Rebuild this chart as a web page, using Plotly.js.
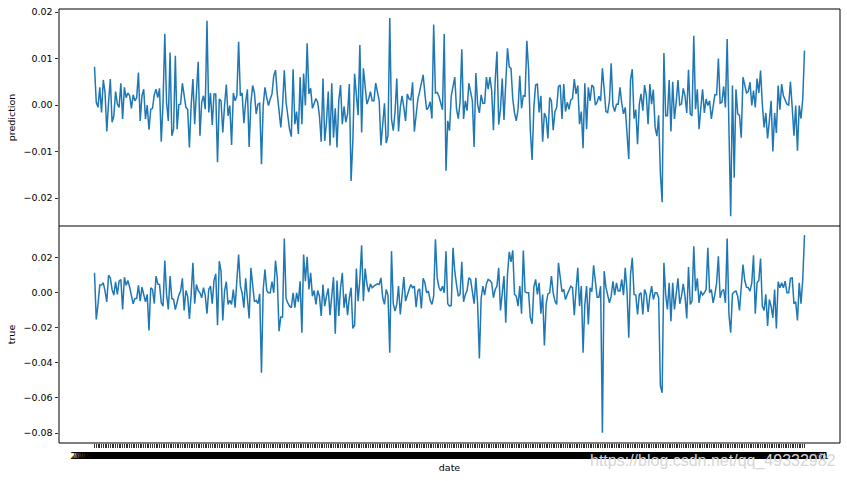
<!DOCTYPE html>
<html><head><meta charset="utf-8">
<script src="https://cdn.plot.ly/plotly-3.0.1.min.js"></script>
<style>html,body{margin:0;padding:0;background:#fff}#chart{width:847px;height:481px}</style>
</head><body><div id="chart"></div>
<script>
// predicted return per trading day
const prediction = [
0.0082,0.0006,-0.0005,0.0038,-0.0016,0.0054,0.0027,-0.0057,0.0006,0.0056,
-0.0037,-0.0023,0.0029,0.0002,-0.0005,0.0047,-0.0030,0.0038,0.0016,0.0026,
0.0020,-0.0007,0.0022,0.0009,0.0016,0.0070,-0.0034,0.0020,0.0034,-0.0030,
0.0000,-0.0053,-0.0009,-0.0007,0.0022,0.0034,0.0016,0.0036,-0.0079,0.0006,
0.0153,0.0006,-0.0034,0.0113,-0.0066,-0.0052,0.0106,-0.0052,0.0001,0.0002,
0.0047,0.0020,-0.0005,-0.0009,-0.0091,-0.0001,0.0056,-0.0041,0.0026,0.0093,
-0.0066,0.0006,0.0020,-0.0009,0.0181,-0.0016,0.0026,-0.0043,0.0024,0.0024,
-0.0123,0.0013,0.0009,-0.0059,-0.0001,0.0044,-0.0023,-0.0001,-0.0086,0.0026,
0.0009,0.0020,0.0136,0.0020,0.0026,-0.0039,0.0006,0.0034,-0.0090,0.0006,
0.0042,0.0026,-0.0019,0.0002,0.0004,-0.0127,-0.0001,0.0038,0.0016,-0.0001,
0.0013,0.0024,0.0063,0.0075,0.0024,-0.0009,-0.0048,-0.0001,0.0075,0.0006,
-0.0030,-0.0052,-0.0068,0.0077,-0.0041,-0.0014,-0.0062,0.0060,-0.0041,0.0068,
-0.0001,0.0133,0.0024,0.0036,-0.0007,0.0006,0.0014,0.0006,-0.0023,-0.0079,
0.0057,-0.0077,-0.0037,0.0029,-0.0087,0.0047,-0.0070,-0.0007,-0.0091,0.0009,
0.0043,-0.0041,-0.0003,-0.0037,-0.0019,0.0045,-0.0163,-0.0077,0.0067,0.0022,
-0.0022,0.0129,-0.0059,0.0079,0.0042,0.0002,0.0013,0.0029,0.0009,0.0009,
0.0047,0.0029,0.0009,-0.0087,-0.0044,0.0004,-0.0082,-0.0066,0.0187,-0.0030,
-0.0055,-0.0016,0.0057,-0.0057,-0.0005,0.0020,-0.0005,-0.0034,0.0024,0.0013,
0.0011,0.0049,-0.0057,-0.0023,0.0013,0.0029,0.0045,0.0065,0.0024,-0.0010,
-0.0005,0.0007,-0.0029,0.0173,0.0026,0.0027,0.0019,0.0006,-0.0010,0.0153,
-0.0141,
-0.0034,-0.0055,0.0020,0.0042,0.0060,-0.0009,-0.0029,0.0006,0.0120,-0.0030,
0.0009,-0.0012,0.0047,0.0029,0.0009,-0.0090,0.0069,0.0002,-0.0017,0.0022,
0.0004,0.0004,0.0060,0.0034,0.0060,0.0031,-0.0054,0.0052,0.0115,-0.0042,
-0.0009,0.0057,-0.0032,0.0047,0.0122,0.0082,0.0079,0.0013,-0.0017,-0.0034,
-0.0009,0.0063,-0.0007,0.0020,0.0019,0.0138,0.0077,-0.0055,-0.0118,-0.0005,
0.0043,0.0045,-0.0016,0.0020,-0.0079,-0.0017,-0.0027,-0.0072,0.0016,0.0009,
-0.0054,-0.0014,-0.0005,0.0040,0.0043,-0.0030,0.0045,-0.0014,0.0006,
-0.0009,0.0011,0.0014,0.0056,0.0024,0.0042,-0.0041,-0.0014,-0.0093,0.0047,
-0.0052,0.0038,0.0009,0.0043,0.0038,0.0000,0.0006,0.0019,0.0009,0.0079,
0.0034,-0.0014,-0.0016,0.0009,0.0090,-0.0001,-0.0014,0.0002,0.0002,0.0038,
0.0004,-0.0019,-0.0005,-0.0066,-0.0116,
0.0054,0.0077,-0.0029,-0.0010,-0.0084,0.0002,0.0024,-0.0012,0.0043,0.0020,
-0.0041,0.0045,0.0002,0.0033,-0.0048,-0.0067,-0.0022,-0.0148,-0.0209,0.0112,
-0.0023,-0.0023,0.0054,-0.0057,0.0050,-0.0030,0.0006,0.0054,0.0000,0.0002,
0.0036,0.0020,-0.0017,0.0076,-0.0019,-0.0023,0.0149,-0.0009,0.0034,-0.0052,
-0.0007,0.0034,-0.0017,0.0013,-0.0001,0.0009,-0.0030,-0.0001,0.0022,0.0022,
0.0100,0.0004,0.0006,0.0040,-0.0005,0.0142,-0.0062,-0.0239,0.0042,-0.0156,
0.0034,-0.0019,-0.0022,-0.0070,0.0060,0.0043,0.0026,0.0029,0.0049,-0.0001,
0.0031,-0.0005,0.0057,0.0026,0.0074,0.0002,-0.0048,-0.0017,-0.0072,-0.0034,
0.0009,-0.0100,-0.0017,-0.0060,0.0042,-0.0010,0.0045,0.0020,0.0009,0.0002,
0.0000,0.0050,-0.0005,-0.0066,-0.0001,-0.0098,-0.0001,-0.0029,0.0013,0.0117
];

// actual return per trading day
const trueValues = [
0.0112,-0.0153,-0.0068,0.0042,0.0042,0.0055,0.0008,-0.0053,0.0098,0.0083,
0.0017,-0.0015,0.0061,-0.0011,0.0064,0.0074,-0.0097,0.0087,0.0040,0.0068,
0.0030,-0.0021,-0.0064,-0.0034,-0.0034,0.0040,-0.0049,0.0030,-0.0015,-0.0053,
-0.0011,-0.0216,0.0027,0.0017,-0.0063,0.0093,0.0049,0.0045,-0.0059,-0.0078,
0.0182,-0.0011,-0.0097,0.0093,-0.0034,-0.0040,-0.0097,-0.0049,-0.0015,0.0008,
0.0080,-0.0102,0.0011,-0.0021,-0.0150,-0.0011,0.0169,-0.0064,0.0045,0.0011,
-0.0002,-0.0030,0.0027,-0.0015,-0.0121,0.0017,0.0036,-0.0064,0.0068,0.0106,
-0.0186,0.0178,0.0121,-0.0159,0.0008,0.0061,-0.0068,-0.0045,-0.0068,0.0017,
-0.0087,0.0068,0.0216,0.0036,-0.0002,-0.0087,0.0080,-0.0034,-0.0148,0.0140,
0.0036,-0.0053,-0.0045,-0.0064,-0.0008,-0.0456,0.0017,0.0131,0.0011,-0.0002,
-0.0002,0.0061,-0.0002,0.0182,0.0083,-0.0220,-0.0140,-0.0140,0.0307,-0.0034,
-0.0059,-0.0078,-0.0087,-0.0002,-0.0087,-0.0002,-0.0053,0.0064,-0.0229,0.0216,
0.0064,0.0203,0.0017,0.0112,-0.0021,0.0011,-0.0068,0.0011,-0.0021,-0.0134,
0.0045,-0.0078,-0.0021,0.0023,-0.0129,-0.0034,0.0087,-0.0235,0.0068,-0.0134,
0.0027,0.0112,-0.0087,-0.0008,-0.0129,-0.0030,0.0027,-0.0205,-0.0186,0.0136,
-0.0049,0.0074,0.0269,-0.0049,0.0136,0.0049,0.0002,0.0049,0.0027,0.0036,
0.0042,0.0049,0.0045,0.0083,-0.0030,-0.0068,0.0017,-0.0015,-0.0343,0.0235,
-0.0064,-0.0106,-0.0068,0.0036,-0.0125,-0.0011,0.0087,-0.0049,-0.0011,0.0017,
0.0045,0.0027,0.0036,-0.0083,0.0008,0.0021,-0.0091,0.0080,0.0055,-0.0002,
0.0008,-0.0045,-0.0068,-0.0021,0.0303,0.0083,0.0030,0.0008,0.0036,-0.0002,
0.0235,-0.0064,
-0.0078,-0.0074,0.0254,0.0121,0.0045,-0.0021,-0.0011,0.0174,-0.0053,-0.0011,
0.0011,0.0083,0.0074,0.0017,-0.0064,0.0083,-0.0064,-0.0375,-0.0034,0.0036,
-0.0015,0.0049,0.0074,0.0068,0.0055,-0.0030,0.0017,0.0036,0.0140,-0.0102,
0.0008,0.0093,-0.0172,0.0102,0.0231,0.0174,0.0239,-0.0011,-0.0021,-0.0078,
0.0036,-0.0121,0.0239,0.0004,-0.0002,-0.0002,-0.0144,-0.0178,0.0030,0.0074,
-0.0011,0.0055,-0.0121,-0.0011,-0.0301,-0.0064,-0.0008,-0.0002,0.0093,-0.0002,
-0.0049,-0.0068,0.0169,0.0080,0.0004,0.0017,-0.0040,-0.0011,0.0008,0.0036,
0.0027,-0.0129,0.0017,0.0140,-0.0078,0.0036,-0.0343,-0.0068,0.0036,-0.0182,
0.0027,0.0004,0.0155,0.0045,-0.0027,-0.0027,0.0036,-0.0797,0.0121,0.0030,
-0.0021,-0.0059,-0.0021,0.0064,-0.0015,0.0055,0.0008,0.0008,0.0074,-0.0015,
0.0140,0.0008,-0.0258,
0.0102,0.0197,-0.0011,-0.0015,-0.0125,-0.0011,-0.0002,-0.0125,0.0017,-0.0011,
-0.0110,-0.0021,0.0036,-0.0040,-0.0002,-0.0002,-0.0030,-0.0532,-0.0570,0.0169,
-0.0011,-0.0097,0.0055,-0.0163,0.0055,-0.0097,-0.0002,0.0080,-0.0064,-0.0021,
0.0049,-0.0021,-0.0148,0.0144,-0.0068,-0.0049,0.0263,0.0008,0.0080,-0.0059,
0.0008,-0.0015,-0.0002,0.0017,0.0254,-0.0002,0.0017,-0.0059,-0.0011,0.0055,
0.0206,-0.0030,0.0008,0.0017,-0.0059,0.0307,-0.0125,-0.0229,-0.0008,0.0004,
0.0008,-0.0021,-0.0102,0.0008,0.0159,0.0068,0.0030,0.0027,0.0008,0.0055,
0.0212,-0.0121,0.0055,0.0068,0.0193,-0.0078,-0.0102,-0.0011,-0.0191,-0.0040,
-0.0078,-0.0144,0.0017,-0.0205,0.0061,0.0027,0.0055,0.0027,0.0064,-0.0002,
-0.0002,0.0080,0.0083,-0.0064,-0.0053,-0.0159,0.0055,-0.0064,0.0074,0.0326
];

// category labels: the trading-day calendar (weekdays from the first test date)
const firstDate = [2019, 0, 2];
const dayCount = Math.max(prediction.length, trueValues.length);
const dates = [];
(function () {
  const d = new Date(Date.UTC(firstDate[0], firstDate[1], firstDate[2]));
  while (dates.length < dayCount) {
    const wd = d.getUTCDay();
    if (wd !== 0 && wd !== 6) {
      const s = d.getUTCFullYear() + String(d.getUTCMonth() + 1).padStart(2, '0') + String(d.getUTCDate()).padStart(2, '0');
      dates.push(s);
    }
    d.setUTCDate(d.getUTCDate() + 1);
  }
})();

const predTicks = [-0.02, -0.01, 0.00, 0.01, 0.02];
const trueTicks = [-0.08, -0.06, -0.04, -0.02, 0.00, 0.02];
const watermark = 'https://blog.csdn.net/qq_49332982';

const lineStyle = {color: '#1f77b4', width: 1.5};
const traces = [
  {x: dates.slice(0, prediction.length), y: prediction, type: 'scatter', mode: 'lines', line: lineStyle, xaxis: 'x', yaxis: 'y', hoverinfo: 'x+y'},
  {x: dates.slice(0, trueValues.length), y: trueValues, type: 'scatter', mode: 'lines', line: lineStyle, xaxis: 'x', yaxis: 'y2', hoverinfo: 'x+y'}
];

const n = dates.length;
const fnt = {family: 'DejaVu Sans, sans-serif', size: 9.5, color: '#000'};
const yCommon = {
  showgrid: false, zeroline: false, showline: false,
  ticks: 'outside', ticklen: 3.5, tickwidth: 0.8, tickcolor: '#000',
  tickformat: '.2f', tickmode: 'array', tickfont: fnt
};
const layout = {
  width: 847, height: 481,
  margin: {l: 59, r: 7, t: 9, b: 38, pad: 0},
  paper_bgcolor: '#fff', plot_bgcolor: '#fff',
  showlegend: false,
  font: fnt,
  xaxis: {
    type: 'category', anchor: 'y2',
    range: [-0.05 * (n - 1), 1.05 * (n - 1)],
    tickmode: 'array', tickvals: dates, ticktext: dates, tickangle: 0,
    ticks: 'outside', ticklen: 3.5, tickwidth: 0.8, tickcolor: '#000',
    showgrid: false, zeroline: false, showline: false,
    tickfont: fnt,
    title: {text: 'date', font: fnt, standoff: 4}
  },
  yaxis: Object.assign({}, yCommon, {
    domain: [0.5, 1], range: [-0.0260, 0.02065], tickvals: predTicks,
    title: {text: 'prediction', font: fnt, standoff: 6}
  }),
  yaxis2: Object.assign({}, yCommon, {
    domain: [0, 0.5], range: [-0.0856, 0.0378], tickvals: trueTicks,
    title: {text: 'true', font: fnt, standoff: 6}
  }),
  shapes: [
    {type: 'rect', xref: 'paper', yref: 'paper', x0: 0, x1: 1, y0: 0, y1: 1, line: {color: '#000', width: 1}, fillcolor: 'rgba(0,0,0,0)', layer: 'above'},
    {type: 'line', xref: 'paper', yref: 'paper', x0: 0, x1: 1, y0: 0.5, y1: 0.5, line: {color: '#000', width: 1}, layer: 'above'}
  ],
  annotations: [
    {text: watermark, xref: 'paper', yref: 'paper', x: 0.9974, y: -0.041, xanchor: 'right', yanchor: 'middle',
     showarrow: false, font: {family: 'Liberation Sans, Arial, sans-serif', size: 16, color: '#d6d6d6'}}
  ]
};

Plotly.newPlot('chart', traces, layout, {staticPlot: true, displayModeBar: false});
</script>
</body></html>
